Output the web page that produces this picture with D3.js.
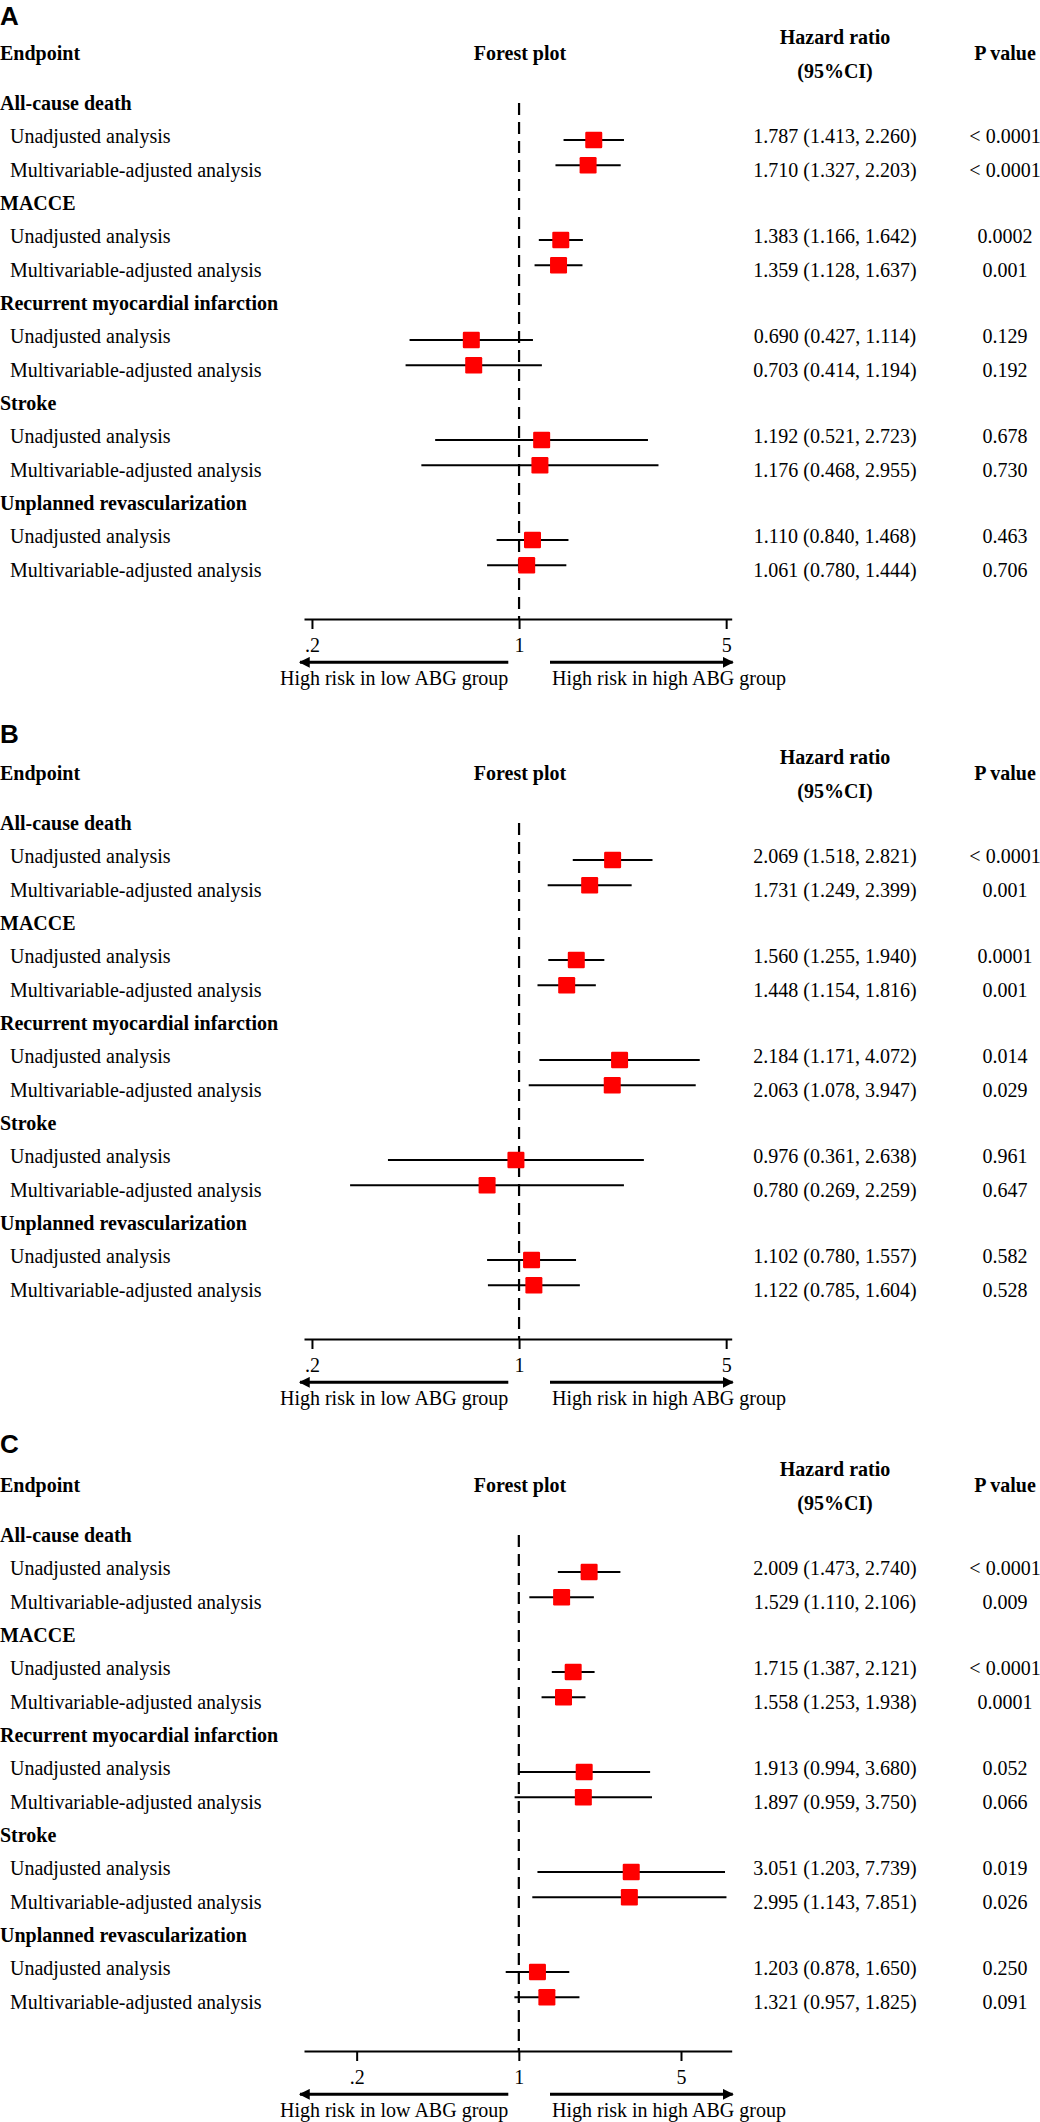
<!DOCTYPE html>
<html>
<head>
<meta charset="utf-8">
<script src="https://cdn.jsdelivr.net/npm/d3@7"></script>
<style>
  body { margin: 0; background: #fff; }
  svg { display: block; background: #fff; }
  text { font-family: "Liberation Serif", "Times New Roman", serif; fill: #000; }
</style>
</head>
<body>
<svg id="chart" width="1040" height="2122"></svg>
<script>
// ---------------- DATA ----------------
const panelLabels = ["A", "B", "C"];
const endpoints = ["All-cause death", "MACCE", "Recurrent myocardial infarction", "Stroke", "Unplanned revascularization"];
const analyses = ["Unadjusted analysis", "Multivariable-adjusted analysis"];

const hrA = [1.787, 1.710, 1.383, 1.359, 0.690, 0.703, 1.192, 1.176, 1.110, 1.061];
const loA = [1.413, 1.327, 1.166, 1.128, 0.427, 0.414, 0.521, 0.468, 0.840, 0.780];
const hiA = [2.260, 2.203, 1.642, 1.637, 1.114, 1.194, 2.723, 2.955, 1.468, 1.444];
const pA  = ["< 0.0001", "< 0.0001", "0.0002", "0.001", "0.129", "0.192", "0.678", "0.730", "0.463", "0.706"];

const hrB = [2.069, 1.731, 1.560, 1.448, 2.184, 2.063, 0.976, 0.780, 1.102, 1.122];
const loB = [1.518, 1.249, 1.255, 1.154, 1.171, 1.078, 0.361, 0.269, 0.780, 0.785];
const hiB = [2.821, 2.399, 1.940, 1.816, 4.072, 3.947, 2.638, 2.259, 1.557, 1.604];
const pB  = ["< 0.0001", "0.001", "0.0001", "0.001", "0.014", "0.029", "0.961", "0.647", "0.582", "0.528"];

const hrC = [2.009, 1.529, 1.715, 1.558, 1.913, 1.897, 3.051, 2.995, 1.203, 1.321];
const loC = [1.473, 1.110, 1.387, 1.253, 0.994, 0.959, 1.203, 1.143, 0.878, 0.957];
const hiC = [2.740, 2.106, 2.121, 1.938, 3.680, 3.750, 7.739, 7.851, 1.650, 1.825];
const pC  = ["< 0.0001", "0.009", "< 0.0001", "0.0001", "0.052", "0.066", "0.019", "0.026", "0.250", "0.091"];

const tickValues = [0.2, 1, 5];
const tickLabels = [".2", "1", "5"];
const colHeaders = ["Endpoint", "Forest plot", "Hazard ratio", "(95%CI)", "P value"];
const arrowLabels = ["High risk in low ABG group", "High risk in high ABG group"];

// ---------------- LAYOUT ----------------
const panels = [
  { label: panelLabels[0], hr: hrA, lo: loA, hi: hiA, p: pA, domain: [0.188, 5.22], top: 0,    labelY: 25 },
  { label: panelLabels[1], hr: hrB, lo: loB, hi: hiB, p: pB, domain: [0.188, 5.22], top: 720,  labelY: 743 },
  { label: panelLabels[2], hr: hrC, lo: loC, hi: hiC, p: pC, domain: [0.1186, 8.27], top: 1432, labelY: 1453 }
];

const svg = d3.select("#chart");
const FS = 20;
const xLeft = 304, xRight = 731.7;
const xHR = 835, xP = 1005;
const axisY = 619, refTop = 103;

// row text baselines and marker positions
const textRow = d3.scaleLinear().domain([0, 1]).range([110, 143.333]);
const markerGroup = d3.scaleLinear().domain([0, 1]).range([140, 240]);
const markerPairGap = 25.3;
const boxW = 17, boxH = 16.5;

// arrow marker definition
const defs = svg.append("defs");
defs.append("marker")
  .attr("id", "arrowhead")
  .attr("viewBox", "0 0 10 10")
  .attr("refX", 9).attr("refY", 5)
  .attr("markerWidth", 4.2).attr("markerHeight", 3.6)
  .attr("markerUnits", "strokeWidth")
  .attr("orient", "auto")
  .append("path").attr("d", "M0,0 L10,5 L0,10 Z").attr("fill", "#000");

panels.forEach(P => {
  const g = svg.append("g").attr("transform", `translate(0,${P.top})`);
  const x = d3.scaleLog().domain(P.domain).range([xLeft, xRight]);

  // panel label
  svg.append("text")
    .attr("x", 0).attr("y", P.labelY)
    .style("font-family", "'Liberation Sans', Arial, sans-serif")
    .style("font-weight", "bold")
    .style("font-size", "26px")
    .text(P.label);

  // headers
  g.append("text").attr("x", 0).attr("y", 60).style("font-weight", "bold").style("font-size", FS + "px").text(colHeaders[0]);
  g.append("text").attr("x", 520).attr("y", 60).attr("text-anchor", "middle").style("font-weight", "bold").style("font-size", FS + "px").text(colHeaders[1]);
  g.append("text").attr("x", xHR).attr("y", 44).attr("text-anchor", "middle").style("font-weight", "bold").style("font-size", FS + "px").text(colHeaders[2]);
  g.append("text").attr("x", xHR).attr("y", 78).attr("text-anchor", "middle").style("font-weight", "bold").style("font-size", FS + "px").text(colHeaders[3]);
  g.append("text").attr("x", xP).attr("y", 60).attr("text-anchor", "middle").style("font-weight", "bold").style("font-size", FS + "px").text(colHeaders[4]);

  // reference dashed line at HR = 1
  g.append("line")
    .attr("x1", x(1)).attr("x2", x(1))
    .attr("y1", refTop).attr("y2", axisY)
    .attr("stroke", "#000").attr("stroke-width", 2.2)
    .attr("stroke-dasharray", "12,7");

  endpoints.forEach((ep, gi) => {
    g.append("text")
      .attr("x", 0).attr("y", textRow(gi * 3))
      .style("font-weight", "bold").style("font-size", FS + "px")
      .text(ep);
    analyses.forEach((an, ai) => {
      const k = gi * 2 + ai;
      const ty = textRow(gi * 3 + 1 + ai);
      const my = markerGroup(gi) + ai * markerPairGap;
      g.append("text").attr("x", 10).attr("y", ty).style("font-size", FS + "px").text(an);
      g.append("text").attr("x", xHR).attr("y", ty).attr("text-anchor", "middle").style("font-size", FS + "px")
        .text(`${P.hr[k].toFixed(3)} (${P.lo[k].toFixed(3)}, ${P.hi[k].toFixed(3)})`);
      g.append("text").attr("x", xP).attr("y", ty).attr("text-anchor", "middle").style("font-size", FS + "px")
        .text(P.p[k]);
      // CI line
      g.append("line")
        .attr("x1", x(P.lo[k])).attr("x2", x(P.hi[k]))
        .attr("y1", my).attr("y2", my)
        .attr("stroke", "#000").attr("stroke-width", 2);
      // box
      g.append("rect")
        .attr("x", x(P.hr[k]) - boxW / 2).attr("y", my - boxH / 2)
        .attr("width", boxW).attr("height", boxH)
        .attr("rx", 1.2)
        .attr("fill", "#ff0000");
    });
  });

  // x axis
  const axis = d3.axisBottom(x)
    .tickValues(tickValues)
    .tickFormat((d, i) => tickLabels[i])
    .tickSize(10)
    .tickSizeOuter(0)
    .tickPadding(8.5);
  const ag = g.append("g").attr("transform", `translate(0,${axisY})`).call(axis);
  ag.select(".domain").attr("stroke", "#000").attr("stroke-width", 2);
  ag.selectAll(".tick line").attr("stroke", "#000").attr("stroke-width", 2);
  ag.selectAll(".tick text")
    .style("font-family", "'Liberation Serif', 'Times New Roman', serif")
    .style("font-size", FS + "px").attr("fill", "#000");
  ag.attr("font-size", null).attr("font-family", null);

  // arrows
  const arrowY = 662.3;
  g.append("line").attr("x1", 508.3).attr("x2", 300).attr("y1", arrowY).attr("y2", arrowY)
    .attr("stroke", "#000").attr("stroke-width", 3).attr("marker-end", "url(#arrowhead)");
  g.append("line").attr("x1", 550).attr("x2", 732.7).attr("y1", arrowY).attr("y2", arrowY)
    .attr("stroke", "#000").attr("stroke-width", 3).attr("marker-end", "url(#arrowhead)");
  g.append("text").attr("x", 508.3).attr("y", 685).attr("text-anchor", "end").style("font-size", FS + "px").text(arrowLabels[0]);
  g.append("text").attr("x", 552).attr("y", 685).attr("text-anchor", "start").style("font-size", FS + "px").text(arrowLabels[1]);
});
</script>
</body>
</html>
